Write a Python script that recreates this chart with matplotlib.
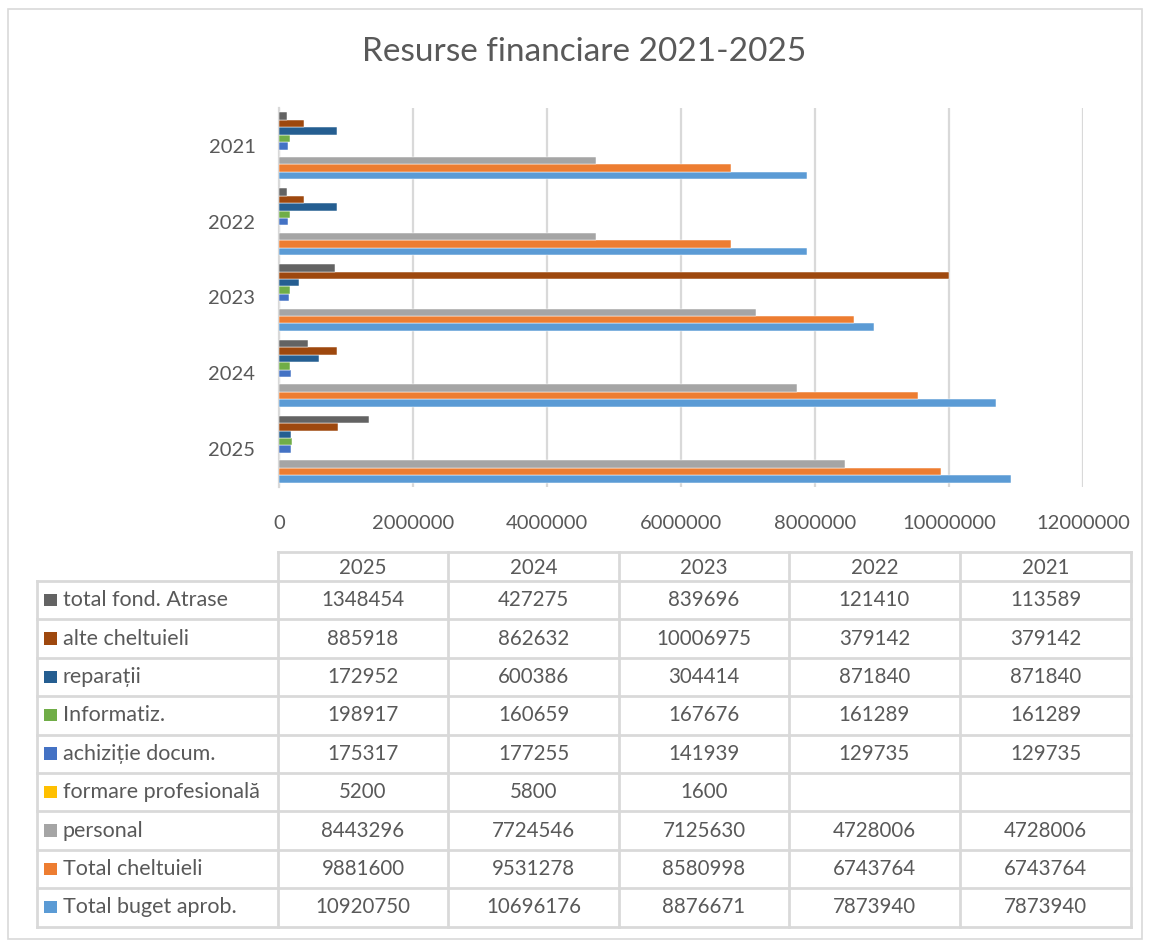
import matplotlib
matplotlib.use("Agg")
import matplotlib.pyplot as plt
from matplotlib.patches import Rectangle
import numpy as np

plt.rcParams['font.family'] = ['Lato', 'DejaVu Sans']

title = "Resurse financiare 2021-2025"
years = ["2025", "2024", "2023", "2022", "2021"]
# series listed bottom-to-top within each year group
series_names = ["Total buget aprob.", "Total cheltuieli", "personal", "formare profesională",
                "achiziție docum.", "Informatiz.", "reparații", "alte cheltuieli", "total fond. Atrase"]
total_buget = [10920750, 10696176, 8876671, 7873940, 7873940]
total_chelt = [9881600, 9531278, 8580998, 6743764, 6743764]
personal = [8443296, 7724546, 7125630, 4728006, 4728006]
formare = [5200, 5800, 1600, None, None]
achizitie = [175317, 177255, 141939, 129735, 129735]
informatiz = [198917, 160659, 167676, 161289, 161289]
reparatii = [172952, 600386, 304414, 871840, 871840]
alte = [885918, 862632, 10006975, 379142, 379142]
fond_atrase = [1348454, 427275, 839696, 121410, 113589]
series_values = [total_buget, total_chelt, personal, formare, achizitie,
                 informatiz, reparatii, alte, fond_atrase]
colors = ["#5B9BD5", "#ED7D31", "#A5A5A5", "#FFC000", "#4472C4",
          "#70AD47", "#255E91", "#9E480E", "#636363"]
xticks = [0, 2000000, 4000000, 6000000, 8000000, 10000000, 12000000]

W, H = 1150, 947
fig = plt.figure(figsize=(W / 100, H / 100), dpi=100)
txt = "#595959"
grid = "#D9D9D9"

# chart axes
L, R, T, B = 279, 1083, 108, 487
ax = fig.add_axes([L / W, 1 - B / H, (R - L) / W, (B - T) / H])
ypos = np.arange(len(years))  # 2025 at bottom (0)
h = 0.098
n = len(series_names)
for i, (vals, c) in enumerate(zip(series_values, colors)):
    v = [0 if x is None else x for x in vals]
    ax.barh(ypos + (i - (n - 1) / 2) * h, v, height=h, color=c,
            edgecolor="#FFFFFF", linewidth=0.35, zorder=3)
ax.set_ylim(-0.5, len(years) - 0.5)
ax.set_xlim(xticks[0], xticks[-1])
ax.set_xticks(xticks)
ax.set_xticklabels([str(t) for t in xticks], fontsize=14.5, color=txt)
ax.set_yticks(ypos)
ax.set_yticklabels(years, fontsize=14.5, color=txt)
ax.tick_params(axis='both', length=0)
ax.tick_params(axis='x', pad=20)
ax.tick_params(axis='y', pad=17)
ax.grid(axis='x', color=grid, linewidth=1.6, zorder=0)
for s in ["top", "right", "bottom"]:
    ax.spines[s].set_visible(False)
ax.spines["left"].set_color(grid)
ax.spines["left"].set_linewidth(1.6)

# overlay axes in pixel coordinates for title, table and border
ov = fig.add_axes([0, 0, 1, 1])
ov.set_xlim(0, W)
ov.set_ylim(H, 0)
ov.axis("off")
ov.patch.set_alpha(0)

ov.text(584, 52, title, ha="center", va="center", fontsize=24, color=txt)
ov.add_patch(Rectangle((8, 9), W - 16, H - 17, fill=False, edgecolor=grid, linewidth=1.2))

col_edges = [278, 448, 619, 789, 960, 1131]
lab_left = 37
hdr_top, hdr_bot = 552, 581
row_h = 38.4
nrows = n
row_tops = [hdr_bot + k * row_h for k in range(nrows + 1)]
lw = 2.0
val_fs = 14.8
lab_fs = 15.5
ov.plot([col_edges[0], col_edges[-1]], [hdr_top, hdr_top], color=grid, lw=lw)
for x in col_edges:
    ov.plot([x, x], [hdr_top, row_tops[-1]], color=grid, lw=lw)
ov.plot([lab_left, lab_left], [hdr_bot, row_tops[-1]], color=grid, lw=lw)
for y in row_tops:
    ov.plot([lab_left, col_edges[-1]], [y, y], color=grid, lw=lw)
for j, yr in enumerate(years):
    ov.text((col_edges[j] + col_edges[j + 1]) / 2, (hdr_top + hdr_bot) / 2 + 1, yr,
            ha="center", va="center", fontsize=val_fs, color=txt)
for r in range(nrows):
    si = n - 1 - r
    yc = row_tops[r] + row_h / 2
    ov.add_patch(Rectangle((44, yc - 6.5), 12.5, 12.5, color=colors[si], lw=0))
    ov.text(63, yc, series_names[si], ha="left", va="center", fontsize=lab_fs, color=txt)
    for j in range(len(years)):
        v = series_values[si][j]
        if v is not None:
            ov.text((col_edges[j] + col_edges[j + 1]) / 2, yc, str(v),
                    ha="center", va="center", fontsize=val_fs, color=txt)

fig.savefig("out.png", dpi=100)
